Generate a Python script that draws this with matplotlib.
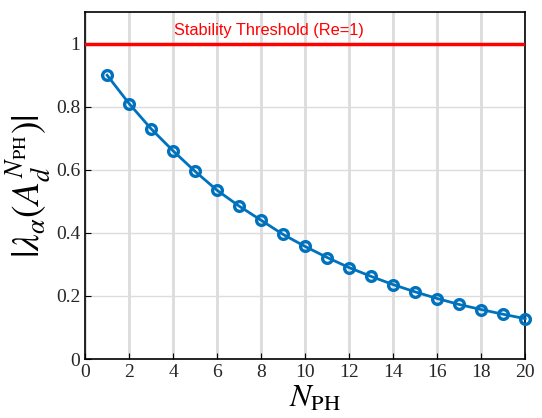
import matplotlib
matplotlib.use('Agg')
from matplotlib import pyplot as plt

# horizon lengths and spectral radius
n_ph = [1, 2, 3, 4, 5, 6, 7, 8, 9, 10, 11, 12, 13, 14, 15, 16, 17, 18, 19, 20]
rho = [0.90, 0.81, 0.73, 0.66, 0.595, 0.535, 0.485, 0.44, 0.395, 0.357,
       0.322, 0.29, 0.262, 0.236, 0.213, 0.192, 0.173, 0.157, 0.142, 0.128]
threshold = 1.0

plt.rcParams['font.family'] = ['Liberation Serif', 'DejaVu Serif']
plt.rcParams['mathtext.fontset'] = 'stix'

fig = plt.figure(figsize=(5.42, 4.18), dpi=100)
ax = fig.add_axes([0.157, 0.141, 0.812, 0.830])

ax.axhline(threshold, color='#ff0000', lw=2.5, zorder=3)
ax.text(4.05, threshold + 0.018, "Stability Threshold (Re=1)", color='#ff0000',
        fontsize=11.8, family='Liberation Sans', va='bottom', ha='left')
ax.plot(n_ph, rho, color='#0072BD', lw=2, marker='o', ms=7, mew=2.4,
        mfc='none', mec='#0072BD', zorder=4, clip_on=False)

ax.set_xlim(0, 20)
ax.set_ylim(0, 1.1)
ax.set_xticks(range(0, 21, 2))
ax.set_yticks([0, 0.2, 0.4, 0.6, 0.8, 1])
ax.set_yticklabels(['0', '0.2', '0.4', '0.6', '0.8', '1'])
ax.tick_params(direction='in', labelsize=14, length=4, width=0.8,
               labelcolor='#262626')
ax.xaxis.grid(True, color='#dcdcdc', lw=2)
ax.yaxis.grid(True, color='#dcdcdc', lw=1)
ax.set_axisbelow(True)
for s in ax.spines.values():
    s.set_linewidth(1.2)

ax.set_xlabel(r"$N_{\mathrm{PH}}$", fontsize=23)
ax.xaxis.set_label_coords(0.523, -0.075)
ax.set_ylabel(r"$|\lambda_\alpha(A_d^{N_{\mathrm{PH}}})|$", fontsize=27, labelpad=2)

fig.savefig('out.png', dpi=100)
